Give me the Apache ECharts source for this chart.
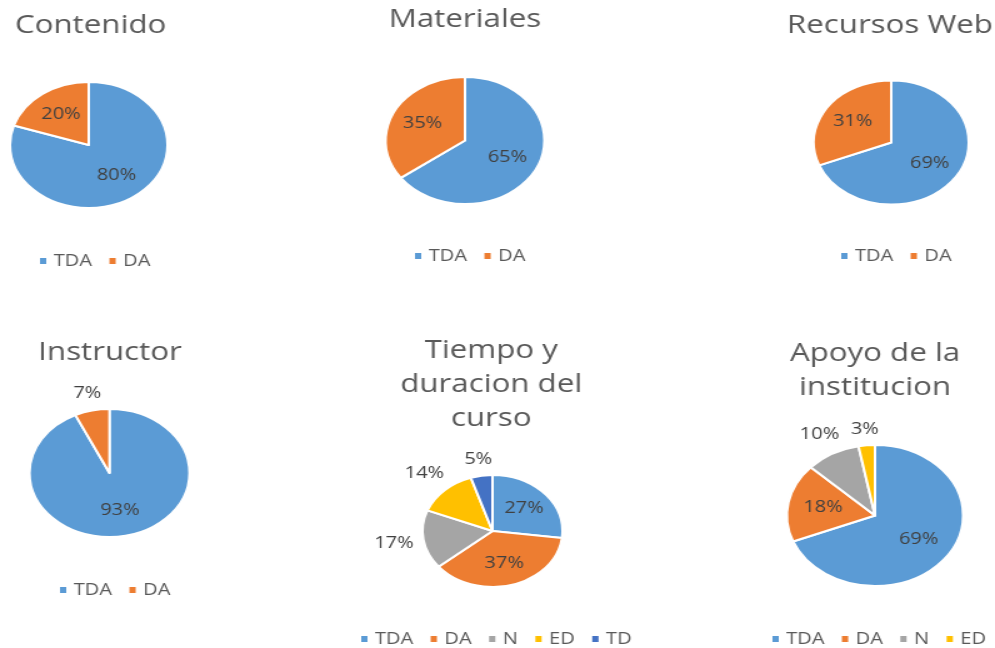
<!DOCTYPE html>
<html>
<head>
<meta charset="utf-8">
<script src="https://cdn.jsdelivr.net/npm/echarts@6/dist/echarts.min.js"></script>
<style>
  html, body { margin: 0; padding: 0; background: #fff; overflow: hidden; }
  /* the source picture is stretched sideways, so the chart is drawn narrow and scaled */
  #main { width: 796px; height: 648px; transform: scaleX(1.25); transform-origin: 0 0; }
</style>
</head>
<body>
<div id="main"></div>
<script>
// data
var twoCats = ['TDA', 'DA']
var fiveCats = ['TDA', 'DA', 'N', 'ED', 'TD']
var fourCats = ['TDA', 'DA', 'N', 'ED']

var contenido = [80, 20]
var materiales = [65, 35]
var recursosWeb = [69, 31]
var instructor = [93, 7]
var tiempo = [27, 37, 17, 14, 5]
var apoyo = [69, 18, 10, 3]

var colorMap = {
  TDA: '#5B9BD5',
  DA: '#ED7D31',
  N: '#A5A5A5',
  ED: '#FFC000',
  TD: '#4472C4'
}

var font = '"Open Sans", "Noto Sans", sans-serif'

// layout of the six panels (unscaled px)
var panels = [
  { title: 'Contenido', names: twoCats, values: contenido, tx: 12, align: 'left', ty: 9, center: [71, 145], r: 63, lx: 30, ly: 253 },
  { title: 'Materiales', names: twoCats, values: materiales, tx: 372, align: 'center', ty: 3, center: [372, 140.5], r: 63.5, lx: 330, ly: 248 },
  { title: 'Recursos Web', names: twoCats, values: recursosWeb, tx: 712, align: 'center', ty: 9, center: [713, 142.5], r: 62, lx: 671, ly: 248 },
  { title: 'Instructor', names: twoCats, values: instructor, tx: 88, align: 'center', ty: 336, center: [87.6, 473], r: 64, lx: 46, ly: 582 },
  { title: 'Tiempo y\nduracion del\ncurso', names: fiveCats, values: tiempo, tx: 393, align: 'center', ty: 334, center: [394, 531], r: 56, lx: 287, ly: 631 },
  { title: 'Apoyo de la\ninstitucion', names: fourCats, values: apoyo, tx: 700, align: 'center', ty: 337, center: [700, 515.5], r: 70.5, lx: 616, ly: 631 }
]

var chart = echarts.init(document.getElementById('main'))

// put labels like Excel's "best fit": big slices inside, small ones just past the rim
function placeLabel(params) {
  var layout = chart.getModel().getSeriesByIndex(params.seriesIndex).getData().getItemLayout(params.dataIndex)
  if (!layout) return {}
  var mid = (layout.startAngle + layout.endAngle) / 2
  var dx = Math.cos(mid)
  var dy = Math.sin(mid)
  var value = panels[params.seriesIndex].values[params.dataIndex]
  var dist
  if (value >= 18) {
    dist = layout.r * 0.6
  } else {
    var w = params.labelRect.width / 2
    var h = params.labelRect.height / 2
    dist = layout.r + 7 + Math.abs(w * dx) + Math.abs(h * dy)
  }
  return {
    x: layout.cx + dx * dist,
    y: layout.cy + dy * dist,
    align: 'center',
    verticalAlign: 'middle'
  }
}

var titles = []
var legends = []
var series = []

panels.forEach(function (p, i) {
  titles.push({
    text: p.title,
    left: p.tx,
    top: p.ty,
    textAlign: p.align,
    padding: 0,
    textStyle: {
      fontFamily: font,
      fontSize: 25,
      fontWeight: 'normal',
      color: '#595959',
      lineHeight: 34
    }
  })
  legends.push({
    data: p.names,
    left: p.lx,
    top: p.ly,
    padding: 0,
    icon: 'rect',
    itemWidth: 7,
    itemHeight: 8,
    itemGap: 12,
    selectedMode: false,
    textStyle: { fontFamily: font, fontSize: 16, color: '#595959' }
  })
  series.push({
    type: 'pie',
    center: p.center,
    radius: p.r,
    startAngle: 90,
    clockwise: true,
    animation: false,
    avoidLabelOverlap: false,
    itemStyle: { borderColor: '#fff', borderWidth: 2 },
    label: {
      show: true,
      position: 'inside',
      formatter: '{c}%',
      fontFamily: font,
      fontSize: 16,
      color: '#404040'
    },
    labelLine: { show: false },
    labelLayout: placeLabel,
    data: p.names.map(function (n, k) {
      return {
        name: n,
        value: p.values[k],
        itemStyle: { color: colorMap[n] }
      }
    })
  })
})

chart.setOption({
  backgroundColor: '#fff',
  title: titles,
  legend: legends,
  series: series
})
</script>
</body>
</html>
